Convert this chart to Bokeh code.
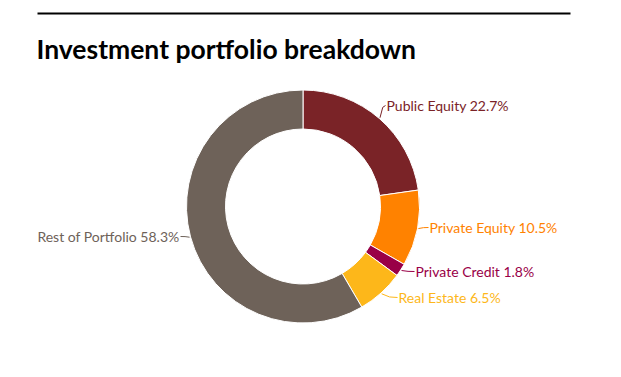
import math
from bokeh.plotting import figure
from bokeh.models import Range1d
from bokeh.core.properties import value
from bokeh.embed import file_html
from bokeh.resources import INLINE

# ---- data ----
categories = ["Public Equity", "Private Equity", "Private Credit", "Real Estate", "Rest of Portfolio"]
shares = [22.7, 10.5, 1.8, 6.5, 58.3]
colors = ["#7A2327", "#FF8200", "#990047", "#FDB71A", "#6E6259"]
title_text = "Investment portfolio breakdown"

# ---- layout (pixel coordinates, y measured from top) ----
W, H = 621, 377
cx, cy = 302.5, 206.0
r_out, r_in = 116.5, 77.5
# label anchor (x, y-from-top) and text alignment for each category
label_anchor = [(386, 105, "left"), (429, 227, "left"), (415, 271, "left"),
                (398, 297, "left"), (179, 236, "right")]

def Y(y):
    return H - y

p = figure(width=W, height=H, x_range=Range1d(0, W), y_range=Range1d(0, H),
           output_backend="svg", toolbar_location=None, min_border=0,
           outline_line_color=None, background_fill_color="white")
p.axis.visible = False
p.xgrid.visible = False
p.ygrid.visible = False

# top rule
p.segment(x0=[37], y0=[Y(13)], x1=[570], y1=[Y(13)], line_color="black", line_width=2)

# title
p.text(x=[36], y=[Y(48)], text=[title_text], text_font=value("Lato"),
       text_font_style="bold", text_font_size="26.5px", text_color="black",
       text_baseline="alphabetic", text_align="left")

total = sum(shares)
cum = 0.0
starts, ends, mids = [], [], []
for s in shares:
    c0 = cum / total
    cum += s
    c1 = cum / total
    starts.append(math.pi / 2 - 2 * math.pi * c0)
    ends.append(math.pi / 2 - 2 * math.pi * c1)
    mids.append(math.pi / 2 - 2 * math.pi * (c0 + c1) / 2)

p.annular_wedge(x=cx, y=Y(cy), inner_radius=r_in, outer_radius=r_out,
                start_angle=starts, end_angle=ends, direction="clock",
                fill_color=colors, line_color="white", line_width=1)

for cat, s, col, a, (lx, ly, al) in zip(categories, shares, colors, mids, label_anchor):
    ox = cx + (r_out + 1) * math.cos(a)
    oy = Y(cy) + (r_out + 1) * math.sin(a)
    ex = lx - 1 if al == "left" else lx + 1
    ey = Y(ly)
    p.line(x=[ox, (ox + ex) / 2, ex], y=[oy, ey + (oy - ey) * 0.15, ey],
           line_color=col, line_width=1)
    p.text(x=[lx], y=[Y(ly)], text=[f"{cat} {s}%"], text_font=value("Lato"),
           text_font_size="14px", text_color=col, text_baseline="middle",
           text_align=al)

open("out.html", "w").write(file_html(p, INLINE))
